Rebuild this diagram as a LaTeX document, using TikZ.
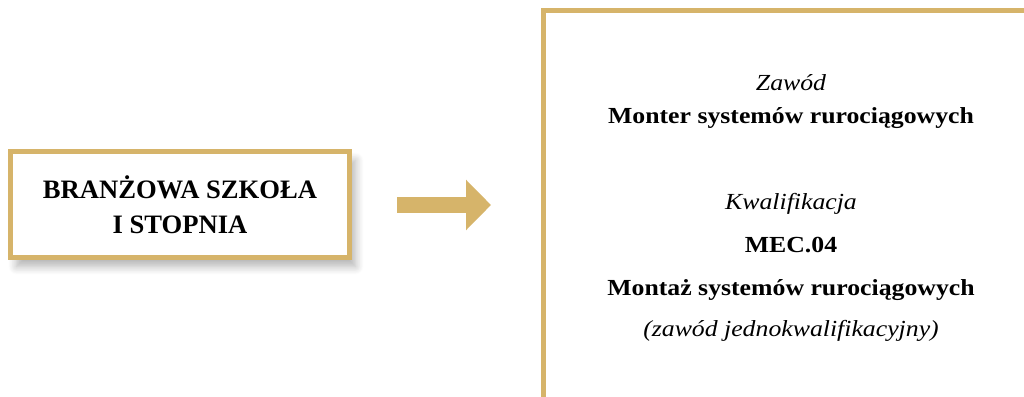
\documentclass[tikz,border=0pt]{standalone}
\usepackage{fontspec}
\setmainfont{Liberation Serif}
\newfontfamily\rfont[FakeStretch=1.12]{Liberation Serif}
\usetikzlibrary{arrows.meta,shadows.blur}
\definecolor{gold}{RGB}{214,180,106}
\tikzset{
  goldbox/.style={draw=gold, line width=5pt, fill=white, outer sep=0pt, inner sep=0pt},
  rtext/.style={anchor=base, inner sep=0pt, font=\rfont\fontsize{23}{27}\selectfont},
  ltext/.style={align=center, inner sep=0pt, font=\bfseries\fontsize{26.6}{35}\selectfont}
}
\begin{document}
\begin{tikzpicture}[x=1pt,y=-1pt]
\useasboundingbox (0,0) rectangle (1024,396);
% left box
\node[goldbox, minimum width=339pt, minimum height=106pt,
  blur shadow={shadow xshift=6pt, shadow yshift=-9pt, shadow blur radius=8pt, shadow blur steps=12, shadow opacity=30}]
  (school) at (180,204.5) {};
\node[ltext, anchor=base] (l1) at (180,198) {BRANŻOWA SZKOŁA};
\node[ltext, anchor=base] (l2) at (180,233) {I STOPNIA};
% right box
\node[goldbox, minimum width=600pt, minimum height=460pt, anchor=north west] (prof) at (543.5,10.5) {};
\node[rtext] (t1) at (791,90) {\itshape Zawód};
\node[rtext] (t2) at (791,123) {\bfseries Monter systemów rurociągowych};
\node[rtext] (t3) at (791,209) {\itshape Kwalifikacja};
\node[rtext] (t4) at (791,252) {\bfseries MEC.04};
\node[rtext] (t5) at (791,295) {\bfseries Montaż systemów rurociągowych};
\node[rtext] (t6) at (791,336) {\itshape (zawód jednokwalifikacyjny)};
% arrow
\coordinate (as) at (397,205);
\coordinate (ae) at (491,205);
\draw[gold, line width=16pt, -{Triangle[length=25pt,width=49pt]}] (as) -- (ae);
\end{tikzpicture}
\end{document}
